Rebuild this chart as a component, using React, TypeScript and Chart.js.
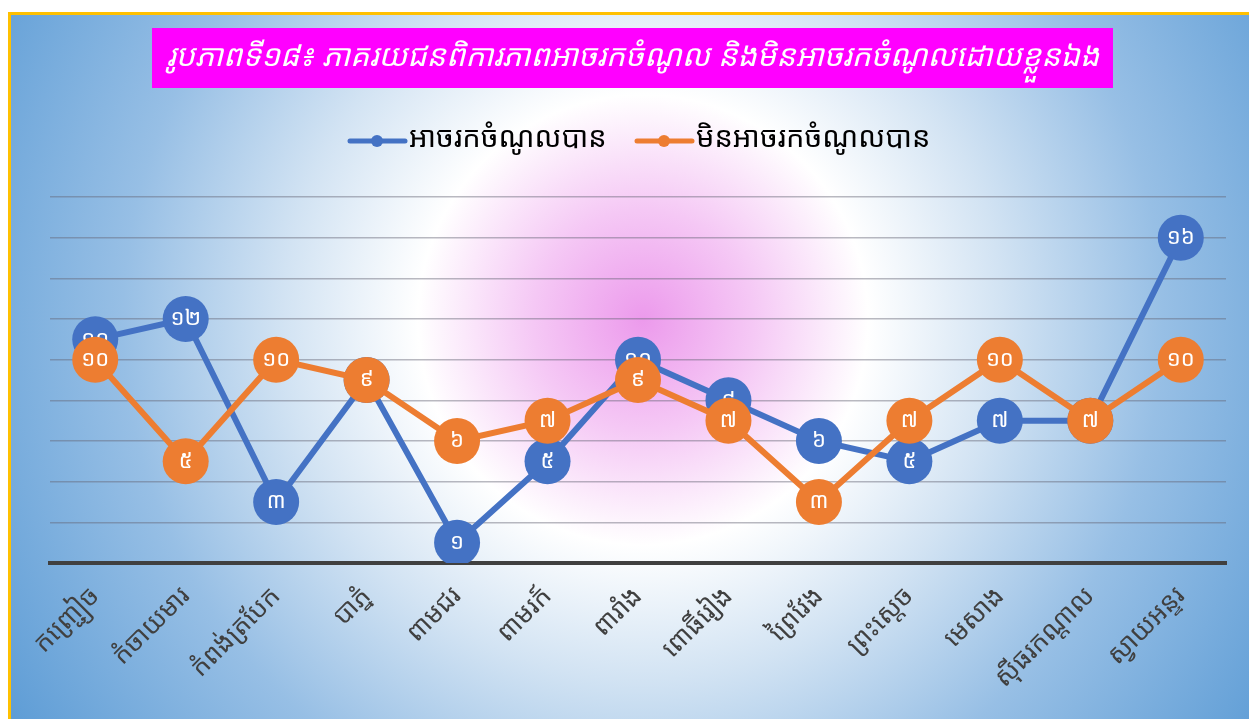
import React, { useEffect, useRef } from "react";
import { Chart, registerables } from "chart.js";

Chart.register(...registerables);

const categories = [
  "កញ្ជ្រៀច",
  "កំចាយមារ",
  "កំពង់ត្របែក",
  "បាភ្នំ",
  "ពាមជរ",
  "ពាមរក៍",
  "ពារាំង",
  "ពោធិ៍រៀង",
  "ព្រៃវែង",
  "ព្រះស្ដេច",
  "មេសាង",
  "ស៊ីធរកណ្ដាល",
  "ស្វាយអន្ទរ",
];
const canEarn = [11, 12, 3, 9, 1, 5, 10, 8, 6, 5, 7, 7, 16];
const cannotEarn = [10, 5, 10, 9, 6, 7, 9, 7, 3, 7, 10, 7, 10];
const seriesNames = ["អាចរកចំណូលបាន", "មិនអាចរកចំណូលបាន"];
const titleText =
  "រូបភាពទី១៨៖ ភាគរយជនពិការភាពអាចរកចំណូល និងមិនអាចរកចំណូលដោយខ្លួនឯង";

const BLUE = "#4472C4";
const ORANGE = "#ED7D31";
const FONT = "'Khmer OS', 'Noto Sans Khmer', 'DejaVu Sans', sans-serif";

const khmerDigits = ["០", "១", "២", "៣", "៤", "៥", "៦", "៧", "៨", "៩"];
const toKhmer = (n: number) =>
  String(n)
    .split("")
    .map((c) => (c >= "0" && c <= "9" ? khmerDigits[+c] : c))
    .join("");

const decorPlugin = {
  id: "decor",
  afterDatasetDraw(chart: any, args: any) {
    const ctx = chart.ctx;
    const meta = args.meta;
    const ds = chart.data.datasets[args.index];
    ctx.save();
    ctx.fillStyle = "#FFFFFF";
    ctx.font = `22px ${FONT}`;
    ctx.textAlign = "center";
    ctx.textBaseline = "middle";
    meta.data.forEach((pt: any, i: number) => {
      ctx.fillText(toKhmer(ds.data[i]), pt.x, pt.y);
    });
    ctx.restore();
  },
  afterDraw(chart: any) {
    const ctx = chart.ctx;
    ctx.save();
    // title box
    ctx.fillStyle = "#FF00FF";
    ctx.fillRect(152, 28, 961, 60);
    ctx.fillStyle = "#FFFFFF";
    ctx.font = `italic 30.5px ${FONT}`;
    ctx.textAlign = "center";
    ctx.textBaseline = "middle";
    ctx.fillText(titleText, 633, 57);
    // legend
    const items = [
      { x: 350, color: BLUE, text: seriesNames[0] },
      { x: 637, color: ORANGE, text: seriesNames[1] },
    ];
    items.forEach((it) => {
      ctx.strokeStyle = it.color;
      ctx.lineWidth = 5;
      ctx.lineCap = "round";
      ctx.beginPath();
      ctx.moveTo(it.x, 141);
      ctx.lineTo(it.x + 55, 141);
      ctx.stroke();
      ctx.fillStyle = it.color;
      ctx.beginPath();
      ctx.arc(it.x + 27, 141, 6, 0, Math.PI * 2);
      ctx.fill();
      ctx.fillStyle = "#000000";
      ctx.font = `29px ${FONT}`;
      ctx.textAlign = "left";
      ctx.textBaseline = "middle";
      ctx.fillText(it.text, it.x + 59, 139);
    });
    ctx.restore();
  },
};

export default function App() {
  const ref = useRef<HTMLCanvasElement>(null);
  useEffect(() => {
    document.body.style.margin = "0";
    const chart = new Chart(ref.current!, {
      type: "line",
      data: {
        labels: categories,
        datasets: [
          {
            label: seriesNames[0],
            data: canEarn,
            borderColor: BLUE,
            backgroundColor: BLUE,
            borderWidth: 6,
            pointRadius: 23,
            pointHoverRadius: 23,
            pointBorderWidth: 0,
            pointBackgroundColor: BLUE,
            tension: 0,
            order: 1,
          },
          {
            label: seriesNames[1],
            data: cannotEarn,
            borderColor: ORANGE,
            backgroundColor: ORANGE,
            borderWidth: 6,
            pointRadius: 23,
            pointHoverRadius: 23,
            pointBorderWidth: 0,
            pointBackgroundColor: ORANGE,
            tension: 0,
            order: 0,
          },
        ],
      },
      options: {
        animation: false,
        responsive: false,
        layout: { padding: { left: 50, right: 22, top: 197, bottom: 0 } },
        plugins: {
          legend: { display: false },
          title: { display: false },
          tooltip: { enabled: false },
        },
        scales: {
          x: {
            offset: true,
            grid: { display: false, drawTicks: false },
            border: { display: true, color: "#404040", width: 4 },
            ticks: {
              minRotation: 45,
              maxRotation: 45,
              autoSkip: false,
              padding: 18,
              color: "#404040",
              font: { family: FONT, size: 26 },
            },
            afterFit(scale: any) {
              scale.height = 156;
            },
          },
          y: {
            min: 0,
            max: 18,
            ticks: { display: false, stepSize: 2 },
            grid: {
              color: "rgba(100,100,115,0.45)",
              lineWidth: 1.5,
              drawTicks: false,
            },
            border: { display: false },
            afterFit(scale: any) {
              scale.width = 0;
            },
          },
        },
      },
      plugins: [decorPlugin],
    } as any);
    return () => chart.destroy();
  }, []);

  return (
    <div style={{ position: "relative", width: 1249, height: 719, overflow: "hidden" }}>
      <div
        style={{
          position: "absolute",
          left: 8,
          top: 12,
          width: 1260,
          height: 720,
          borderLeft: "3px solid #FFC000",
          borderTop: "3px solid #FFC000",
          background:
            "radial-gradient(circle at 632px 305px, #EC9AEC 0px, #F5C8F5 110px, #FFFFFF 225px, #D2E3F3 360px, #97BFE5 520px, #5B9BD5 760px)",
        }}
      />
      <canvas
        ref={ref}
        width={1249}
        height={719}
        style={{ position: "absolute", left: 0, top: 0, width: 1249, height: 719 }}
      />
    </div>
  );
}
